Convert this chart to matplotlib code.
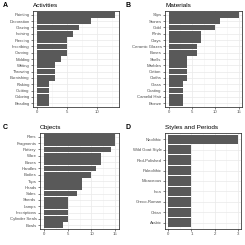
import numpy as np
import matplotlib as mpl
import matplotlib.pyplot as plt

mpl.rcParams['font.family'] = ['Liberation Sans', 'DejaVu Sans']

# 数据
act_names = ['Painting', 'Decoration', 'Glazing', 'Incising', 'Piercing', 'Inscribing', 'Carving',
             'Molding', 'Writing', 'Throwing', 'Burnishing', 'Flaking', 'Cutting', 'Coloring', 'Beading']
act_counts = [13, 9, 7, 6, 5, 5, 5, 4, 3, 3, 3, 2, 2, 2, 2]

mat_names = ['Slips', 'Stones', 'Gold', 'Flints', 'Clays', 'Ceramic Glazes', 'Bones', 'Shells',
             'Marbles', 'Cotton', 'Cloths', 'Glass', 'Coating', 'Camelid Hair', 'Bronze']
mat_counts = [15, 11, 10, 7, 7, 6, 6, 4, 4, 4, 4, 3, 3, 3, 3]

obj_names = ['Rims', 'Fragments', 'Pottery', 'Ware', 'Bases', 'Handles', 'Bodies', 'Tops', 'Heads',
             'Sides', 'Sherds', 'Lamps', 'Inscriptions', 'Cylinder Seals', 'Bowls']
obj_counts = [15, 15, 14, 12, 12, 11, 10, 8, 8, 7, 5, 5, 5, 5, 4]

sty_names = ['Neolithic', 'Wild Goat Style', 'Red-Polished', 'Paleolithic', 'Micaceous', 'Inca',
             'Greco-Roman', 'Chian', 'Arabic']
sty_counts = [3, 1, 1, 1, 1, 1, 1, 1, 1]

W = H = 245
PX = 0.72  # 1像素对应的磅数 (dpi=100)

fig = plt.figure(figsize=(2.45, 2.45), dpi=100)

# (左, 右, 上, 下) 像素位置, 名称, 数值, 标题, 编号, 主刻度间隔, 编号x位置
panels = [
    ((33, 119, 11, 107), act_names, act_counts, 'Activities', 'A', 5, 3),
    ((165, 242, 11, 107), mat_names, mat_counts, 'Materials', 'B', 5, 125),
    ((40, 119, 133, 229), obj_names, obj_counts, 'Objects', 'C', 5, 3),
    ((165, 241, 133, 229), sty_names, sty_counts, 'Styles and Periods', 'D', 1, 125),
]

for box, names, counts, title, tag, major, tagx in panels:
    l, r, t, b = box
    ax = fig.add_axes([l / W, 1 - b / H, (r - l) / W, (b - t) / H])
    n = len(names)
    y = np.arange(n)[::-1]
    vmax = max(counts)
    ax.set_xlim(-0.05 * vmax, 1.05 * vmax)
    ax.set_ylim(-0.6, n - 0.4)
    ax.set_axisbelow(True)
    ticks = np.arange(0, vmax + 0.01, major)
    minor = [v + major / 2 for v in ticks if v + major / 2 <= 1.05 * vmax]
    ax.set_xticks(ticks)
    ax.set_xticks(minor, minor=True)
    ax.set_xticklabels([str(int(v)) for v in ticks])
    ax.set_yticks(y)
    ax.set_yticklabels(names)
    ax.grid(True, which='major', color='#EBEBEB', lw=0.8 * PX)
    ax.grid(True, which='minor', axis='x', color='#F2F2F2', lw=0.5 * PX)
    ax.barh(y, counts, height=0.9, color='#595959', lw=0)
    for s in ax.spines.values():
        s.set_color('#333333')
        s.set_linewidth(0.8 * PX)
    ax.tick_params(which='major', length=1.5, width=0.6 * PX, color='#333333',
                   labelsize=3.1, labelcolor='#4D4D4D', pad=1)
    ax.tick_params(which='minor', length=0)
    ytop = 1 - (t - 5.5) / H
    fig.text(l / W, ytop, title, fontsize=4.6, ha='left', va='center')
    fig.text(tagx / W, ytop, tag, fontsize=5, fontweight='bold', ha='left', va='center')

fig.savefig('out.png', dpi=100)
